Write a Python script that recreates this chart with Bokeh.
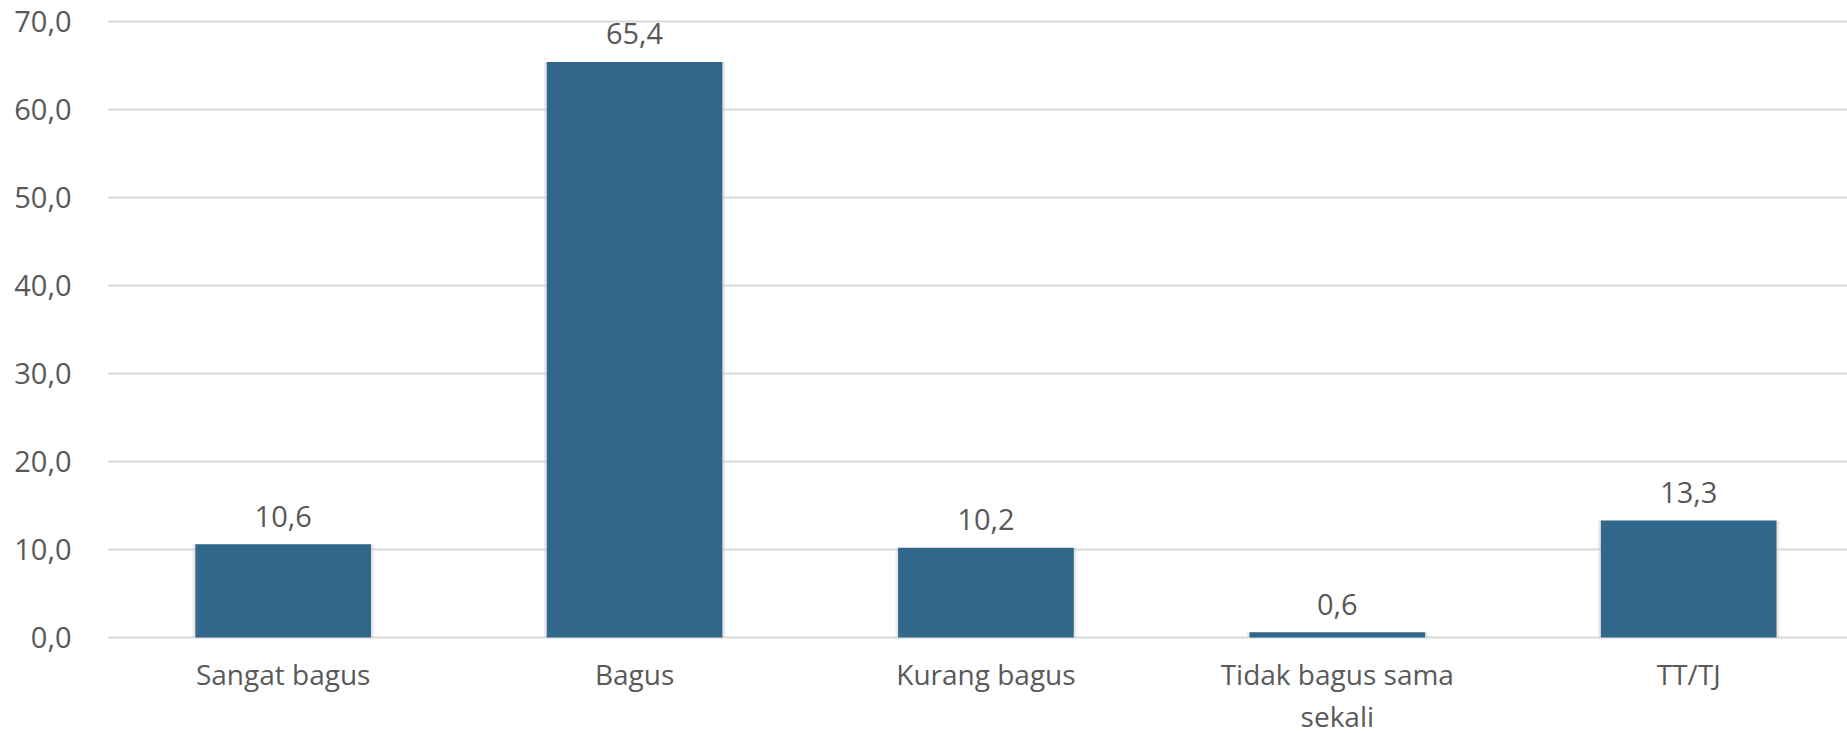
from bokeh.plotting import figure
from bokeh.models import Range1d, FixedTicker, ColumnDataSource
from bokeh.core.properties import value
from bokeh.embed import file_html
from bokeh.resources import INLINE

categories = ["Sangat bagus", "Bagus", "Kurang bagus", "Tidak bagus sama\nsekali", "TT/TJ"]
values = [10.6, 65.4, 10.2, 0.6, 13.3]
value_labels = ["10,6", "65,4", "10,2", "0,6", "13,3"]
y_ticks = [0, 10, 20, 30, 40, 50, 60, 70]
y_tick_labels = ["0,0", "10,0", "20,0", "30,0", "40,0", "50,0", "60,0", "70,0"]

FONT = "Open Sans"
TXT = "#595959"
FS = "29px"

xs = list(range(len(categories)))
src = ColumnDataSource(dict(x=xs, top=values, lab=value_labels))

p = figure(output_backend="svg", toolbar_location=None,
           frame_width=1740, frame_height=626,
           x_range=Range1d(-0.5, 4.452), y_range=Range1d(-0.45, 70.68),
           min_border_left=107, min_border_top=15, min_border_right=0, min_border_bottom=60)
p.outline_line_color = None
p.background_fill_color = "white"

# subtle shadow
p.vbar(x="x", top="top", bottom=0, width=0.515, source=src, fill_color="#cfcfcf",
       fill_alpha=0.45, line_color=None)
p.vbar(x="x", top="top", bottom=0, width=0.5, source=src, fill_color="#31678a",
       line_color=None)
p.text(x="x", y="top", text="lab", source=src, text_align="center", text_baseline="middle",
       y_offset=-28, text_font=value(FONT), text_font_size=FS, text_color=TXT)

p.xaxis.ticker = FixedTicker(ticks=xs)
p.xaxis.major_label_overrides = {i: c for i, c in zip(xs, categories)}
p.yaxis.ticker = FixedTicker(ticks=y_ticks)
p.yaxis.major_label_overrides = {t: l for t, l in zip(y_ticks, y_tick_labels)}

for ax in (p.xaxis[0], p.yaxis[0]):
    ax.axis_line_color = None
    ax.major_tick_line_color = None
    ax.minor_tick_line_color = None
    ax.major_label_text_font = FONT
    ax.major_label_text_font_size = FS
    ax.major_label_text_color = TXT
p.yaxis.major_label_standoff = 30
p.xaxis.major_label_text_font_size = "28px"
p.xaxis.major_label_standoff = 7
p.xaxis.major_label_text_line_height = 1.12

p.xgrid.grid_line_color = None
p.ygrid.grid_line_color = "#d9d9d9"
p.ygrid.grid_line_width = 2

open("out.html", "w").write(file_html(p, INLINE))
